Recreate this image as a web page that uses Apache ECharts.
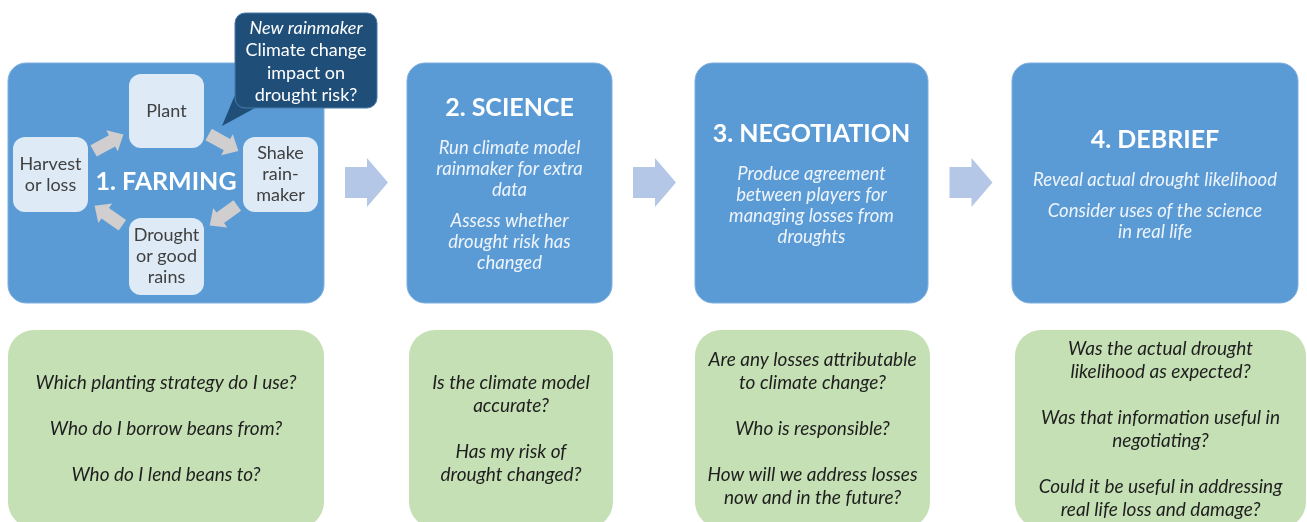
<!DOCTYPE html>
<html>
<head>
<meta charset="utf-8">
<script src="https://cdn.jsdelivr.net/npm/echarts@6/dist/echarts.min.js"></script>
<style>
  html, body { margin: 0; padding: 0; background: #fff; }
  #main { width: 1307px; height: 522px; }
</style>
</head>
<body>
<div id="main"></div>
<script>
// ---- content ----
var stages = ['1. FARMING', '2. SCIENCE', '3. NEGOTIATION', '4. DEBRIEF'];
var stageNotes = [
    [],
    ['Run climate model\nrainmaker for extra\ndata', 'Assess whether\ndrought risk has\nchanged'],
    ['Produce agreement\nbetween players for\nmanaging losses from\ndroughts'],
    ['Reveal actual drought likelihood', 'Consider uses of the science\nin real life']
];
var questions = [
    ['Which planting strategy do I use?', 'Who do I borrow beans from?', 'Who do I lend beans to?'],
    ['Is the climate model\naccurate?', 'Has my risk of\ndrought changed?'],
    ['Are any losses attributable\nto climate change?', 'Who is responsible?', 'How will we address losses\nnow and in the future?'],
    ['Was the actual drought\nlikelihood as expected?', 'Was that information useful in\nnegotiating?', 'Could it be useful in addressing\nreal life loss and damage?']
];
var cycleSteps = ['Plant', 'Shake\nrain-\nmaker', 'Drought\nor good\nrains', 'Harvest\nor loss'];
var calloutTitle = 'New rainmaker';
var calloutText = 'Climate change\nimpact on\ndrought risk?';

// ---- layout (units of the hidden axes) ----
var stageX = [[8, 324], [407, 612], [695, 928], [1012, 1298]];
var questionX = [[8, 324], [409, 613], [695, 930], [1015, 1306]];
var stageY = [63, 303], questionY = [330, 528];
var cycleBoxes = [[129, 74, 204, 148], [243, 137, 318, 212], [129, 218, 204, 295], [13, 137, 88, 212]];
var calloutBox = [235, 13, 377, 108];
var calloutTip = [[237, 90], [222, 126], [255, 108]];

var FONT = 'Lato, "Open Sans", sans-serif';
var BLUE = '#5B9BD5', PALE = '#DEEBF7', DARK = '#1F4E79', GREEN = '#C5E0B4';

function box(api, b, r, fill, stroke) {
    var p = api.coord([b[0], b[1]]), q = api.coord([b[2], b[3]]);
    return {type: 'rect', shape: {x: p[0], y: p[1], width: q[0] - p[0], height: q[1] - p[1], r: r},
            style: {fill: fill, stroke: stroke || null, lineWidth: stroke ? 1 : 0}};
}
function label(api, x, y, text, font, fill, lh) {
    var p = api.coord([x, y]);
    return {type: 'text', x: p[0], y: p[1],
            style: {text: text, font: font, fill: fill, align: 'center', verticalAlign: 'middle', lineHeight: lh}};
}
function poly(api, pts) {
    return {type: 'polygon', shape: {points: pts.map(function (p) { return api.coord(p); })}};
}
// block arrow pointing along (dx,dy), centred on (cx,cy)
function blockArrow(cx, cy, dx, dy, len, shaft, head, headLen) {
    var n = Math.sqrt(dx * dx + dy * dy), ux = dx / n, uy = dy / n;
    var loc = [[-len / 2, -shaft], [len / 2 - headLen, -shaft], [len / 2 - headLen, -head], [len / 2, 0],
               [len / 2 - headLen, head], [len / 2 - headLen, shaft], [-len / 2, shaft]];
    return loc.map(function (p) { return [cx + p[0] * ux - p[1] * uy, cy + p[0] * uy + p[1] * ux]; });
}

var chart = echarts.init(document.getElementById('main'));

var option = {
    animation: false,
    grid: {left: 0, right: 0, top: 0, bottom: 0},
    xAxis: {type: 'value', min: 0, max: 1307, show: false},
    yAxis: {type: 'value', min: 0, max: 522, inverse: true, show: false},
    series: [
        {   // stage boxes
            type: 'custom',
            data: stages.map(function (s, i) { return [i, 0]; }),
            renderItem: function (params, api) {
                var i = api.value(0), xs = stageX[i];
                var children = [box(api, [xs[0], stageY[0], xs[1], stageY[1]], 18, BLUE, '#7FAEDD')];
                if (i === 0) return {type: 'group', children: children};
                var cx = (xs[0] + xs[1]) / 2, cy = (stageY[0] + stageY[1]) / 2;
                var notes = stageNotes[i], lh = 21, gap = 10, titleLh = 32, titleGap = 13.5;
                var total = titleLh + titleGap;
                notes.forEach(function (t, k) { total += t.split('\n').length * lh + (k ? gap : 0); });
                var y = cy - total / 2;
                children.push(label(api, cx, y + titleLh / 2, stages[i], 'bold 25px ' + FONT, '#fff', titleLh));
                y += titleLh + titleGap;
                notes.forEach(function (t) {
                    var n = t.split('\n').length;
                    children.push(label(api, cx, y + n * lh / 2, t, 'italic 18.5px ' + FONT, '#EEF4FB', lh));
                    y += n * lh + gap;
                });
                return {type: 'group', children: children};
            }
        },
        {   // question boxes
            type: 'custom',
            data: questions.map(function (q, i) { return [i, 0]; }),
            renderItem: function (params, api) {
                var i = api.value(0), xs = questionX[i];
                return {type: 'group', children: [
                    box(api, [xs[0], questionY[0], xs[1], questionY[1]], 26, GREEN),
                    label(api, (xs[0] + xs[1]) / 2, (questionY[0] + questionY[1]) / 2,
                          questions[i].join('\n\n'), 'italic 19px ' + FONT, '#1E1E1E', 23)
                ]};
            }
        },
        {   // arrows between stages
            type: 'custom',
            data: [[0, 0], [1, 0], [2, 0]],
            renderItem: function (params, api) {
                var i = api.value(0);
                var cx = (stageX[i][1] + stageX[i + 1][0]) / 2 + 1, cy = 182.5;
                var a = poly(api, blockArrow(cx, cy, 1, 0, 43, 15.5, 24.5, 21));
                a.style = {fill: '#B4C7E7'};
                return a;
            }
        },
        {   // farming cycle
            type: 'custom',
            data: cycleSteps.map(function (s, i) { return [i, 0]; }),
            renderItem: function (params, api) {
                var i = api.value(0), b = cycleBoxes[i], nb = cycleBoxes[(i + 1) % 4];
                var ax = (b[0] + b[2]) / 2, ay = (b[1] + b[3]) / 2;
                var bx = (nb[0] + nb[2]) / 2, by = (nb[1] + nb[3]) / 2;
                var arrow = poly(api, blockArrow((ax + bx) / 2, (ay + by) / 2, bx - ax, by - ay, 34, 6.5, 12, 13));
                arrow.style = {fill: '#D0CECE'};
                var children = [
                    box(api, b, 12, PALE),
                    label(api, ax, ay, cycleSteps[i], '18px ' + FONT, '#404040', 21),
                    arrow
                ];
                if (i === 0) {
                    children.push(label(api, 166, 182, stages[0], 'bold 25px ' + FONT, '#fff', 32));
                }
                return {type: 'group', children: children};
            }
        },
        {   // callout
            type: 'custom',
            data: [[0, 0]],
            renderItem: function (params, api) {
                var tip = poly(api, calloutTip);
                tip.style = {fill: DARK};
                var cx = (calloutBox[0] + calloutBox[2]) / 2;
                return {type: 'group', children: [
                    tip,
                    box(api, calloutBox, 10, DARK, '#4A7AA8'),
                    label(api, cx, 28, calloutTitle, 'italic 18px ' + FONT, '#fff', 22),
                    label(api, cx, 73, calloutText, '18px ' + FONT, '#fff', 22.5)
                ]};
            }
        }
    ]
};

chart.setOption(option);
</script>
</body>
</html>
